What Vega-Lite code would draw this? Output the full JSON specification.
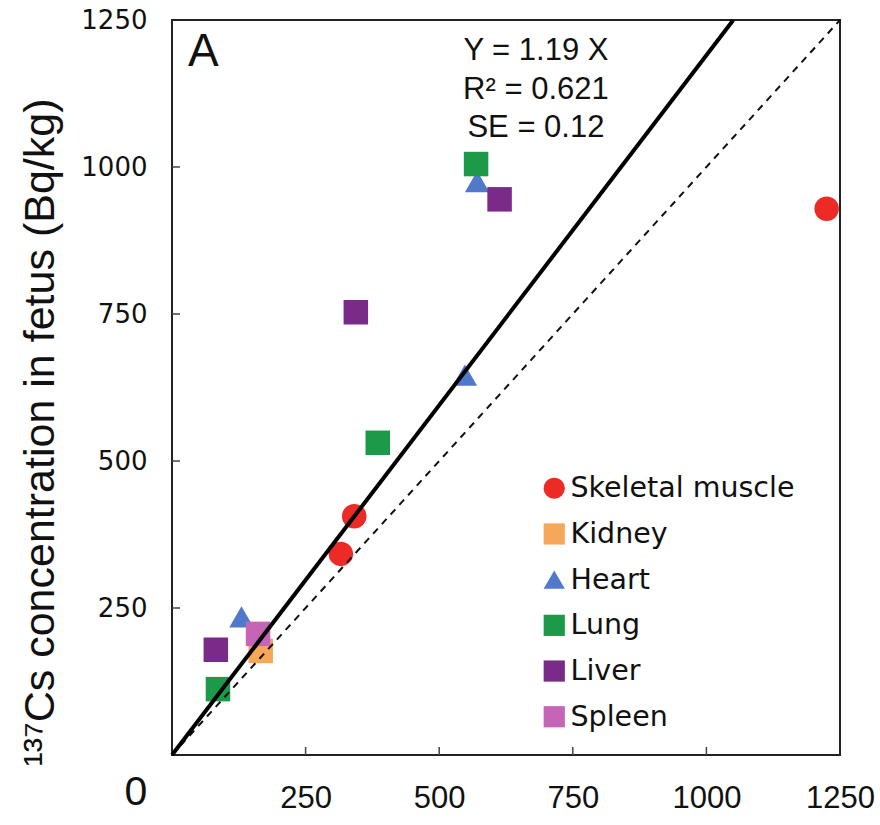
{
  "$schema": "https://vega.github.io/schema/vega-lite/v6.json",
  "autosize": "none",
  "width": 668,
  "height": 735,
  "padding": {"left": 172, "top": 20, "right": 40, "bottom": 70},
  "background": "white",
  "config": {
    "view": {"stroke": "#222222", "strokeWidth": 2},
    "axis": {
      "domain": false,
      "grid": false,
      "ticks": false,
      "format": "d",
      "labelFlush": false,
      "labelOverlap": false,
      "labelColor": "#111111"
    }
  },
  "layer": [
    {
      "data": {"values": [{"at": 250}, {"at": 500}, {"at": 750}, {"at": 1000}]},
      "mark": {"type": "rule", "color": "#444444", "strokeWidth": 1.5, "y2Offset": -8},
      "encoding": {
        "x": {"field": "at", "type": "quantitative"},
        "y": {"datum": 0, "type": "quantitative"},
        "y2": {"datum": 0}
      }
    },
    {
      "data": {"values": [{"at": 250}, {"at": 500}, {"at": 750}, {"at": 1000}]},
      "mark": {"type": "rule", "color": "#444444", "strokeWidth": 1.5, "x2Offset": 8},
      "encoding": {
        "y": {"field": "at", "type": "quantitative"},
        "x": {"datum": 0, "type": "quantitative"},
        "x2": {"datum": 0}
      }
    },
    {
      "data": {
        "values": [
          {"tissue": "Skeletal muscle", "mother": 1225, "fetus": 929},
          {"tissue": "Skeletal muscle", "mother": 341, "fetus": 406},
          {"tissue": "Skeletal muscle", "mother": 316, "fetus": 342},
          {"tissue": "Kidney", "mother": 166, "fetus": 177},
          {"tissue": "Heart", "mother": 571, "fetus": 975},
          {"tissue": "Heart", "mother": 548, "fetus": 646},
          {"tissue": "Heart", "mother": 130, "fetus": 235},
          {"tissue": "Lung", "mother": 569, "fetus": 1005},
          {"tissue": "Lung", "mother": 385, "fetus": 531},
          {"tissue": "Lung", "mother": 86, "fetus": 112},
          {"tissue": "Liver", "mother": 613, "fetus": 945},
          {"tissue": "Liver", "mother": 344, "fetus": 753},
          {"tissue": "Liver", "mother": 82, "fetus": 179},
          {"tissue": "Spleen", "mother": 161, "fetus": 206}
        ]
      },
      "mark": {"type": "point", "filled": true, "size": 600, "opacity": 1, "strokeWidth": 0},
      "encoding": {
        "x": {
          "field": "mother",
          "type": "quantitative",
          "scale": {"domain": [0, 1250], "nice": false},
          "axis": {
            "title": null,
            "values": [0, 250, 500, 750, 1000, 1250],
            "labelExpr": "datum.value == 0 ? '' : datum.label",
            "labelFont": "Liberation Sans",
            "labelFontSize": 31,
            "labelBaseline": "alphabetic",
            "labelPadding": 52
          }
        },
        "y": {
          "field": "fetus",
          "type": "quantitative",
          "scale": {"domain": [0, 1250], "nice": false},
          "axis": {
            "values": [0, 250, 500, 750, 1000, 1250],
            "labelExpr": "datum.value == 0 ? '' : datum.label",
            "labelFont": "DejaVu Sans",
            "labelFontSize": 26,
            "labelPadding": 25,
            "title": "¹³⁷Cs concentration in fetus (Bq/kg)",
            "titleFont": "Liberation Sans",
            "titleFontSize": 43,
            "titleFontWeight": "normal",
            "titleColor": "#111111",
            "titleAngle": -90,
            "titleAlign": "center",
            "titleBaseline": "middle",
            "titleX": -132,
            "titleY": 412
          }
        },
        "color": {
          "field": "tissue",
          "type": "nominal",
          "scale": {
            "domain": ["Skeletal muscle", "Kidney", "Heart", "Lung", "Liver", "Spleen"],
            "range": ["#EC2A26", "#F7A75A", "#5079CC", "#1C9A4A", "#7A2A88", "#C665B6"]
          },
          "legend": {
            "title": null,
            "orient": "none",
            "legendX": 368,
            "legendY": 454,
            "padding": 0,
            "symbolSize": 450,
            "symbolStrokeWidth": 0,
            "symbolOpacity": 1,
            "labelFont": "DejaVu Sans",
            "labelFontSize": 28.5,
            "labelLimit": 0,
            "labelColor": "#111111",
            "labelOffset": 2,
            "rowPadding": 16.7
          }
        },
        "shape": {
          "field": "tissue",
          "type": "nominal",
          "scale": {
            "domain": ["Skeletal muscle", "Kidney", "Heart", "Lung", "Liver", "Spleen"],
            "range": ["circle", "square", "triangle-up", "square", "square", "square"]
          },
          "legend": null
        }
      }
    },
    {
      "data": {"values": [{"mother": 0, "fetus": 0}, {"mother": 1250, "fetus": 1250}]},
      "mark": {"type": "line", "color": "#111111", "strokeWidth": 2, "strokeDash": [7, 6]},
      "encoding": {
        "x": {"field": "mother", "type": "quantitative"},
        "y": {"field": "fetus", "type": "quantitative"}
      }
    },
    {
      "data": {"values": [{"mother": 0, "fetus": 0}, {"mother": 1050, "fetus": 1249.5}]},
      "mark": {"type": "line", "color": "#000000", "strokeWidth": 4},
      "encoding": {
        "x": {"field": "mother", "type": "quantitative"},
        "y": {"field": "fetus", "type": "quantitative"}
      }
    },
    {
      "data": {
        "values": [
          {"line": "Y = 1.19 X", "row": 0},
          {"line": "R² = 0.621", "row": 1},
          {"line": "SE = 0.12", "row": 2}
        ]
      },
      "mark": {"type": "text", "font": "Liberation Sans", "fontSize": 31, "align": "center", "baseline": "alphabetic", "color": "#111111"},
      "encoding": {
        "x": {"datum": 681, "type": "quantitative"},
        "y": {"datum": 1250, "type": "quantitative"},
        "yOffset": {"field": "row", "type": "quantitative", "scale": {"domain": [0, 2], "range": [40, 117]}},
        "text": {"field": "line"}
      }
    },
    {
      "data": {"values": [{"panel": "A"}]},
      "mark": {"type": "text", "font": "Liberation Sans", "fontSize": 46, "align": "left", "baseline": "alphabetic", "dx": 16, "dy": 46, "color": "#111111"},
      "encoding": {
        "x": {"datum": 0, "type": "quantitative"},
        "y": {"datum": 1250, "type": "quantitative"},
        "text": {"field": "panel"}
      }
    },
    {
      "data": {"values": [{"origin": "0"}]},
      "mark": {"type": "text", "font": "Liberation Sans", "fontSize": 41, "align": "center", "baseline": "middle", "dx": -36, "dy": 38, "color": "#111111"},
      "encoding": {
        "x": {"datum": 0, "type": "quantitative"},
        "y": {"datum": 0, "type": "quantitative"},
        "text": {"field": "origin"}
      }
    }
  ]
}
